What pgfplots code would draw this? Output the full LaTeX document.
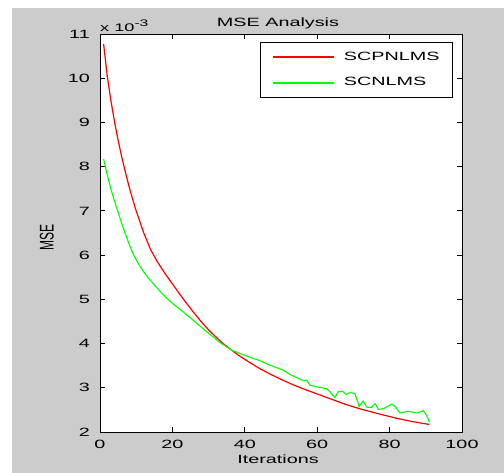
\documentclass[border=0pt]{standalone}
\usepackage{graphicx}
\usepackage{pgfplots}
\pgfplotsset{compat=1.18}
\usepackage{fontspec}
\setmainfont{Liberation Sans}[FakeStretch=1.65]
\newfontfamily\plainsans{Liberation Sans}
\definecolor{figgray}{RGB}{204,204,204}

\begin{document}
\fontsize{12pt}{14pt}\selectfont
\begin{tikzpicture}[x=1pt,y=1pt]
\fill[white] (0,0) rectangle (504,473);
\fill[figgray] (12,0) rectangle (504,465);
\begin{axis}[
  at={(100pt,41pt)}, anchor=south west,
  scale only axis, width=362pt, height=398pt,
  xmin=0, xmax=100, ymin=2, ymax=11,
  xtick={0,20,...,100}, ytick={2,3,...,11},
  tick align=inside, major tick length=5pt,
  axis line style={black, line width=0.8pt},
  every tick/.style={black, line width=0.8pt},
  /pgf/number format/assume math mode=true,
  tick label style={font=\fontsize{12pt}{12pt}\selectfont, inner sep=0pt},
  yticklabel style={anchor=east, xshift=-10pt},
  xticklabel style={anchor=north, yshift=-8pt},
  axis background/.style={fill=white},
  legend cell align=left,
  legend image code/.code={\draw[#1, line width=2pt] (0pt,0pt) -- (61pt,0pt);},
  legend style={at={(0.975,0.98)}, anchor=north east, line width=0.8pt,
    inner xsep=11pt, inner ysep=8pt, row sep=10.9pt, column sep=7pt},
]
\addplot[red, line width=1.2pt] coordinates {
(1,10.77)(2,10.05)(3,9.5)(4,9.02)(5,8.6)(6,8.22)(7,7.88)(8,7.56)(9,7.27)(10,7.0)
(12,6.52)(14,6.12)(16,5.83)(18,5.58)(20,5.35)(22,5.12)(24,4.9)(26,4.69)(28,4.49)
(30,4.31)(32,4.15)(34,4.0)(36.4,3.85)(38,3.75)(41,3.59)(44,3.44)(47,3.31)(50,3.19)
(53,3.08)(56,2.98)(60,2.86)(64,2.74)(68,2.62)(72,2.52)(77,2.41)(82,2.31)(86,2.24)(91,2.17)
};
\addlegendentry{SCPNLMS}
\addplot[green, line width=1.1pt] coordinates {
(1,8.17)(2,7.82)(3,7.5)(4,7.22)(5,6.97)(6,6.72)(7,6.48)(8,6.26)(9.2,6.02)(10.5,5.82)
(12,5.63)(13.5,5.47)(15,5.33)(16.7,5.17)(18.4,5.03)(20.5,4.88)(22.6,4.74)(25,4.58)
(27,4.44)(29,4.3)(31,4.17)(33,4.03)(36.4,3.85)(38.5,3.78)(41.4,3.69)
(44,3.62)(47,3.51)(50.6,3.40)(52.5,3.30)(56.2,3.16)(57.1,3.17)(58,3.06)(60,3.02)
(62.6,2.98)(63.5,2.91)(64.9,2.78)(65.8,2.91)(67,2.92)(68,2.85)(69.1,2.89)(70.4,2.87)
(71.6,2.58)(72.7,2.70)(73.8,2.55)(75,2.56)(76,2.64)(76.9,2.51)(78.3,2.53)(80.6,2.63)
(81.5,2.58)(82.9,2.43)(85.2,2.47)(87.5,2.43)(89.3,2.48)(90.2,2.38)(91,2.23)
};
\addlegendentry{SCNLMS}
\end{axis}
\node[anchor=base, inner sep=0pt] at (278,446) {MSE Analysis};
\node[anchor=base west, inner sep=0pt] at (100,441.3) {\fontsize{11pt}{11pt}\selectfont x 10\raisebox{5.5pt}{\fontsize{9.5pt}{9.5pt}\selectfont -3}};
\node[anchor=north, inner sep=0pt] at (278,18) {Iterations};
\node[rotate=90, inner sep=0pt] at (46.7,235) {\plainsans\scalebox{1}[1.65]{MSE}};
\pgfresetboundingbox
\useasboundingbox (0,0) rectangle (504,473);
\end{tikzpicture}
\end{document}
